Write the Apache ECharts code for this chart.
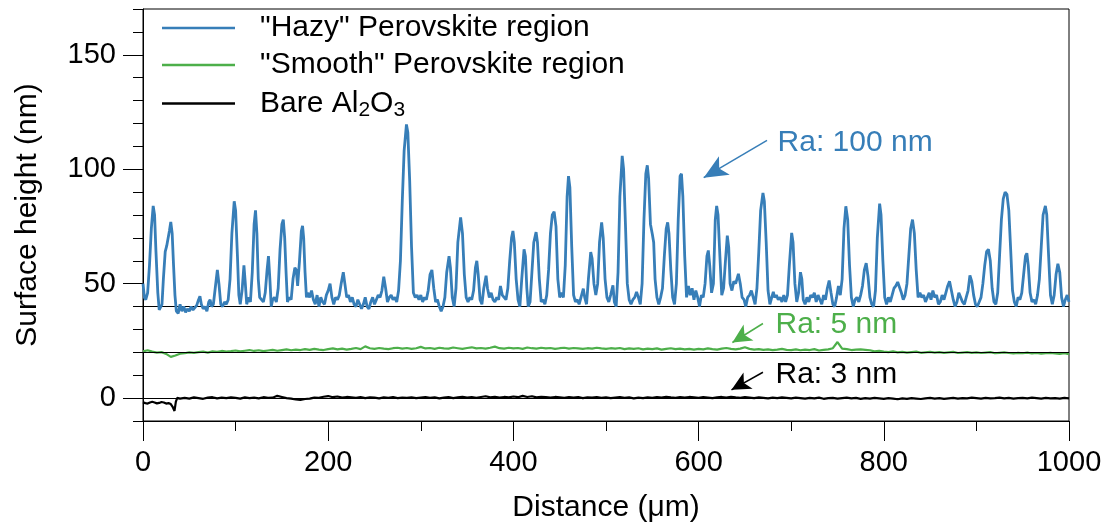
<!DOCTYPE html>
<html><head><meta charset="utf-8">
<script src="https://cdn.jsdelivr.net/npm/echarts@6/dist/echarts.min.js"></script>
<style>html,body{margin:0;padding:0;background:#fff}#c{width:1111px;height:528px}</style>
</head><body><div id="c"></div>
<script>
const seriesNames = ['"Hazy" Perovskite region', '"Smooth" Perovskite region', 'Bare Al2O3'];
const xTitle = 'Distance (μm)';
const yTitle = 'Surface height (nm)';
const yLabelValues = [0, 50, 100, 150];
const refLines = [40, 20, 0];
const annotations = ['Ra: 100 nm', 'Ra: 5 nm', 'Ra: 3 nm'];

// "Hazy" profile: [distance µm, height nm]
const hazy = [[0,50],[1.5,44],[3,43],[5,46],[7,58],[9,74],[11,84],[12.5,80],[14,64],[16,46],[17.5,38.5],[19,38],[20.5,41],[22,52],[24,64],[25.6,66.5],[27,67],[28.5,73],[30,77],[31.5,72],[33,58],[34.5,45],[36,38],[38,37],[40,41],[42,38],[44,40],[46,37.5],[48,39],[50,38],[52,40],[54,38.5],[56,39],[58,40.5],[60,43],[61.5,44.5],[63,41],[65,39],[67,40],[69,38],[71,42],[72.5,43],[74,40],[76,41],[78,48],[80.3,56],[82,50],[84,41],[86,40],[88,42],[90,41],[92,43],[94,52],[96,72],[98.5,86],[100,82],[102,62],[103.5,45],[105,41],[107,47],[109,58],[110.5,50],[112,41],[114,44],[116,42],[118,55],[120,76],[121.5,82],[123,72],[124.5,52],[126,44],[128,43],[130,42],[132,46],[134,56],[135.5,62],[137,52],[138.5,40],[140,43],[142,44],[144,42],[146,48],[148,65],[150,76],[151.5,78],[153,70],[154.5,55],[156,42],[158,44],[160,43],[162,52],[164,57],[165.5,56],[167,49],[169,60],[171,73],[172.3,75.3],[173.5,70],[175,55],[176.5,44],[178,46],[180,44],[182,47],[184,43],[186,41],[188,45],[190,40],[192,44],[194,42],[196,41],[198,45],[200,47],[202,50],[204,44],[206,41],[208,44],[210,43],[212,45],[214,50],[216.3,55],[218,50],[220,44],[222,45],[224,42],[226,44],[228,41],[230,40],[232,43],[234,41],[236,39],[238,41],[240,44],[242,40],[244,39],[246,42],[248,44],[250,41],[252,43],[254,45],[256,44],[258,47],[260,53],[262,48],[264,42],[266,44],[268,45],[270,43],[272,44],[274,42],[276,47],[278,60],[280,86],[282,108],[284.5,119.6],[286,116],[288,95],[290,66],[292,46],[294,44],[296,45],[298,43],[300,45],[302,42],[304,44],[306,43],[308,47],[310,54],[312,56],[314,48],[316,42],[318,43],[320,40],[322,38],[324,40],[326,44],[328,55],[330.5,62],[332,57],[334,44],[336,40],[338,48],[340,68],[343,79],[345,72],[347,54],[349,44],[351,42],[353,44],[355,43],[357,47],[359,57],[360.5,60],[362,54],[364,43],[366,41],[368,48],[370.5,53.5],[372,48],[374,44],[376,46],[378,43],[380,42],[382,44],[384,43],[386,49],[388,45],[390,44],[392,43],[394,48],[396,60],[398,70],[399.5,73],[401,68],[403,52],[405,43],[407,40],[409,52],[411.5,65],[413,62],[414.5,48],[416,40],[418,42],[420,55],[422,68],[424.5,72.5],[426,68],[428,52],[430,42],[432,43],[434,41],[436,45],[438,56],[440,72],[442,80],[444,81.5],[446,75],[448,52],[450,44],[452,46],[454,44],[456,58],[458,88],[459.5,97],[461,92],[463,66],[465,45],[467,42],[469,43],[471,41],[473,44],[475.5,47.8],[477,44],[479,41],[481,52],[483.5,63.8],[485,61],[487,50],[489,45],[491,50],[493,68],[495.3,76.8],[497,70],[499,52],[501,44],[503,42],[505,45],[507.5,49.3],[509,42],[511,40],[513,55],[515,88],[517.5,105.8],[519,100],[521,76],[523,50],[525,43],[527,41],[529,43],[531,44],[533,46.4],[535,44],[537,41],[539,50],[541,78],[543,98],[544.6,101.7],[546,96],[548,76],[550,71.7],[551.5,68],[553,52],[555,44],[557,41],[559,44],[561,48],[563,62],[565,74],[566.6,76.8],[568,72],[570,56],[572,44],[574,41],[576,50],[578,78],[580,97],[581.5,98],[583,88],[585,62],[587,44],[589,49],[591,45],[593,48],[595,43],[597,47],[599,44],[601,40],[603,45],[605,44],[607,50],[609,62],[610.5,64.5],[612,58],[614,46],[616,50],[618,78],[619.5,84],[621,80],[623,62],[625,45],[627,48],[629,60],[631,71],[632.5,66],[634,50],[636,47],[638,51],[640,50],[643,54.3],[645,50],[647,44],[649,43],[651,40],[653,44],[655,45],[657,47],[659,44],[661,41],[663,48],[665,64],[667,82],[669.5,89.6],[671,86],[673,68],[675,47],[677,41],[679,44],[680.7,46.4],[682,44],[684,45],[686,43],[688,44],[690,42],[692,45],[694,42],[696,45],[698,58],[700.5,72.2],[702,68],[704,50],[706,42],[708,46],[710,55],[711.5,52],[713,43],[715,41],[717,44],[719,42],[721,45],[723,44],[725,46],[727,42],[729,45],[731,43],[733,41],[735,45],[737,43],[739,48],[741,51.4],[743,46],[745,41],[747,40],[749,44],[751,49],[753,45],[755,52],[757,74],[759,83.8],[761,78],[763,58],[765,44],[767,40],[769,43],[771,44],[773,42],[775,45],[777,49],[779,56],[781,59],[783,53],[785,44],[787,41],[789,40],[791,47],[793,70],[795.5,85],[797,80],[799,60],[801,44],[803,41],[805,44],[807,42],[809,45],[811,48],[813,49],[815,50.7],[817,50],[819,46],[821,43],[823,45],[825,50],[827,62],[829,74],[831,78],[833,72],[835,56],[837,44],[839,46],[841,44],[843,45],[845,42],[847,44],[849,46],[851,43],[853,47],[855,44],[857,45],[859,41],[861,42],[863,45],[865,43],[867,46],[869,49],[871,51],[873,47],[875,43],[877,40],[879,42],[881,46],[883,44],[885,42],[887,41],[889,44],[891,47],[893,53.6],[895,51],[897,45],[899,41],[901,40],[903,42],[905,44],[907,50],[909,58],[911,64],[913,65],[915,60],[917,48],[919,42],[921,41],[923,46],[925,62],[927,78],[929,87],[931,90],[933,89],[935,82],[937,65],[939,47],[941,42],[943,40],[945,44],[947,43],[949,46],[951,54],[953,62],[954.5,63.3],[956,58],[958,46],[960,42],[962,43],[964,41],[966,45],[968,52],[970,66],[972,80],[974.5,84],[976,80],[978,62],[980,45],[982,41],[984,45],[986,54],[988,58.7],[990,55],[992,44],[994,40],[996,43],[998,45],[1000,42]];

// "Smooth" profile, sampled every 5 µm from 0 to 1000
const smoothStep = 5;
const smoothY = [
20.4,20.9,20.3,19.9,20.1,19.3,18.0,18.6,19.4,19.6,20.0,19.8,20.1,20.3,19.9,20.4,20.2,20.6,20.3,20.5,
20.8,20.4,20.7,21.0,20.6,20.9,20.5,20.8,21.1,20.7,21.0,21.3,20.9,21.2,21.0,21.4,21.1,21.5,21.2,21.0,
21.4,21.7,21.3,21.6,21.2,21.5,21.9,21.4,22.6,21.8,21.5,21.9,21.6,21.4,21.8,22.0,21.6,21.9,21.5,21.8,
22.4,21.7,21.9,21.5,22.0,21.7,21.6,22.1,21.8,21.5,21.9,22.2,21.7,21.9,21.6,22.0,22.5,21.8,21.6,22.0,
21.7,21.9,21.5,22.1,21.8,21.6,22.0,21.7,21.9,21.5,21.8,22.0,21.6,21.9,21.7,21.5,21.8,21.6,22.0,21.7,
21.5,21.8,21.6,21.9,21.4,21.7,21.5,21.8,21.3,21.6,21.4,21.7,21.2,21.5,21.8,21.4,21.6,21.3,21.5,21.2,
21.5,21.3,21.7,21.4,21.2,21.6,21.9,21.5,21.3,21.6,22.2,21.5,21.2,21.4,21.1,21.3,21.0,21.2,21.5,21.1,
21.0,21.3,20.9,21.2,21.0,21.4,20.8,21.1,21.3,21.8,24.5,21.6,21.4,21.0,21.2,21.3,21.1,20.9,20.4,20.6,
20.3,20.1,20.4,20.0,20.2,19.9,20.1,20.3,19.8,20.0,20.2,19.9,20.1,19.8,20.0,20.2,19.7,19.9,20.1,19.8,
20.0,19.7,19.9,20.1,19.6,19.8,20.0,19.7,19.5,19.8,19.6,19.9,19.5,19.7,19.4,19.6,19.8,19.5,19.3,19.6,
19.2];

// Bare Al2O3 profile
const bareX = [0,2.5,5,7.5,10,12.5,15,17.5,20,22.5,25,27.5,30,32,34,35.5,37,40];
const bareYStart = [-1.8,-2.2,-2.4,-1.9,-1.6,-1.9,-2.3,-2.1,-1.7,-1.9,-2.4,-2.2,-2.6,-3.8,-5.6,-1.5,0.1,-0.2];
const bareStep = 5; // from 45 to 1000
const bareYRest = [
0.1,-0.2,0.3,0.0,-0.3,0.2,0.4,-0.1,0.2,0.0,0.3,
0.1,-0.2,0.3,0.0,0.2,-0.1,0.4,0.1,0.2,1.0,0.5,0.0,-0.2,-0.6,-0.8,-0.4,-0.2,0.2,0.1,0.6,
0.9,0.4,0.7,0.2,0.5,0.3,0.1,0.4,0.0,0.3,0.2,-0.1,0.3,0.1,0.4,0.0,0.2,0.1,0.3,0.0,
0.2,0.4,0.1,0.3,-0.1,0.2,0.5,0.0,0.3,0.6,0.2,0.4,0.1,0.5,0.8,0.3,0.6,0.2,0.5,0.3,
0.7,0.4,1.0,0.5,0.8,0.3,0.6,0.4,0.2,0.5,0.3,0.1,0.4,0.2,0.5,0.0,0.3,0.2,0.4,0.1,
0.3,0.0,0.2,0.4,0.1,0.3,-0.1,0.2,0.0,0.3,0.1,0.4,0.2,0.6,0.3,0.1,0.4,0.2,0.5,0.3,
0.1,0.4,0.2,0.0,0.3,0.5,0.2,0.6,0.3,0.1,0.4,0.2,0.0,0.3,0.1,-0.1,0.2,0.0,0.3,0.1,
-0.1,0.2,0.0,-0.2,0.1,-0.1,0.2,-0.3,0.0,0.1,-0.2,0.0,0.2,-0.1,0.1,-0.3,0.0,-0.2,0.1,-0.1,
-0.3,0.0,-0.2,-0.5,-0.1,-0.3,0.0,-0.2,-0.4,-0.1,0.1,-0.2,0.0,-0.3,-0.1,0.1,-0.2,0.0,-0.1,0.2,
0.0,-0.2,0.1,-0.1,0.0,0.2,-0.1,0.1,-0.2,0.0,0.1,-0.1,0.2,0.0,-0.2,0.1,-0.1,0.0,-0.2,0.1,
-0.1];

// Arrow (tail -> tip) and label anchor points (data units)
const arrows = [
  {from: [673.9, 112.6], to: [605.5, 96.3]},
  {from: [669.5, 32.6], to: [636.5, 24.3]},
  {from: [669.5, 11.3], to: [635.5, 3.6]}
];
const labelAt = [[684.7, 111.4], [682.5, 32.0], [682.5, 10.0]];

const colors = ['#377eb8', '#4daf4a', '#000000'];
const FONT = 'Liberation Sans, Arial, Helvetica, sans-serif';

const smoothData = smoothY.map((v, i) => [i * smoothStep, v]);
const bareData = bareX.map((x, i) => [x, bareYStart[i]])
  .concat(bareYRest.map((v, i) => [45 + i * bareStep, v]));
const datasets = [hazy, smoothData, bareData];

function series(i) {
  const c = colors[i];
  return {
    name: seriesNames[i],
    type: 'line',
    data: datasets[i],
    symbol: 'none',
    showSymbol: false,
    silent: true,
    z: 3 - i + 2,
    lineStyle: {color: c, width: i === 0 ? 2.8 : 2.2},
    itemStyle: {color: c},
    markLine: {
      silent: true,
      animation: false,
      symbol: ['none', 'none'],
      label: {show: false},
      data: [
        {yAxis: refLines[i], lineStyle: {color: '#000', width: 1, type: 'solid'}},
        [
          {coord: arrows[i].from, symbol: 'none', lineStyle: {color: c, width: 1.5, type: 'solid'}, itemStyle: {color: c}},
          {coord: arrows[i].to, symbol: 'arrow', symbolSize: i === 0 ? [16, 24] : [14, 19], itemStyle: {color: c}}
        ]
      ]
    },
    markPoint: {
      silent: true,
      animation: false,
      symbol: 'circle',
      symbolSize: 1,
      itemStyle: {color: 'rgba(0,0,0,0)'},
      data: [{
        coord: labelAt[i],
        label: {
          show: true, position: 'right', distance: 0,
          formatter: annotations[i],
          color: c, fontSize: 30, fontFamily: FONT
        }
      }]
    }
  };
}

const chart = echarts.init(document.getElementById('c'), null, {renderer: 'canvas'});
chart.setOption({
  animation: false,
  backgroundColor: '#fff',
  textStyle: {fontFamily: FONT},
  grid: {left: 143, right: 42, top: 9, bottom: 105, show: true, borderColor: '#000', borderWidth: 1, containLabel: false},
  legend: {
    orient: 'vertical', left: 162, top: 12, padding: 0, itemGap: 5,
    itemWidth: 73, itemHeight: 2.5, icon: 'rect',
    selectedMode: false,
    data: seriesNames,
    formatter: n => n === 'Bare Al2O3' ? 'Bare Al{sub|2}O{sub|3}' : n,
    textStyle: {
      color: '#000', fontSize: 30, fontFamily: FONT, lineHeight: 32,
      padding: [0, 0, 0, 20],
      rich: {sub: {fontSize: 21, fontFamily: FONT, lineHeight: 32, padding: [14, 0, 0, 0], color: '#000'}}
    }
  },
  xAxis: {
    type: 'value', min: 0, max: 1000, interval: 200,
    name: xTitle, nameLocation: 'middle', nameGap: 72,
    nameTextStyle: {color: '#000', fontSize: 30, fontFamily: FONT},
    axisLine: {show: true, onZero: false, lineStyle: {color: '#000', width: 1}},
    axisTick: {show: true, length: 20, lineStyle: {color: '#000', width: 1}},
    minorTick: {show: true, splitNumber: 2, length: 10, lineStyle: {color: '#000', width: 1}},
    axisLabel: {color: '#000', fontSize: 29, fontFamily: FONT, margin: 27, formatter: v => String(v)},
    splitLine: {show: false}
  },
  yAxis: [{
    type: 'value', min: -10, max: 170, position: 'left',
    name: yTitle, nameLocation: 'middle', nameGap: 100, nameRotate: 90,
    nameTextStyle: {color: '#000', fontSize: 30, fontFamily: FONT},
    axisLine: {show: true, onZero: false, lineStyle: {color: '#000', width: 1}},
    axisTick: {show: true, length: 20, customValues: yLabelValues, lineStyle: {color: '#000', width: 1}},
    axisLabel: {color: '#000', fontSize: 29, fontFamily: FONT, margin: 27, customValues: yLabelValues},
    splitLine: {show: false}
  }, {
    type: 'value', min: -10, max: 170, interval: 10, position: 'left',
    axisLine: {show: false, onZero: false},
    axisTick: {show: true, length: 10, lineStyle: {color: '#000', width: 1}},
    axisLabel: {show: false},
    splitLine: {show: false}
  }],
  series: [series(0), series(1), series(2)]
});
</script></body></html>
